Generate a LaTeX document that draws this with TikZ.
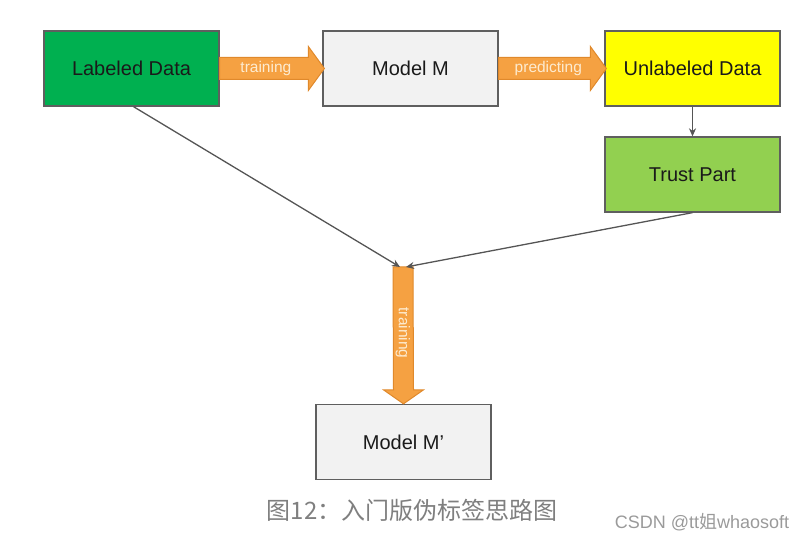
\documentclass[tikz,border=0pt]{standalone}
\usepackage{fontspec}
\setmainfont{Liberation Sans}
\newfontfamily\cjk{Noto Sans CJK SC}
\usetikzlibrary{calc,arrows.meta}
\definecolor{boxline}{HTML}{5F5F5F}
\definecolor{dkgreen}{HTML}{00B050}
\definecolor{ltgreen}{HTML}{92D050}
\definecolor{ltgray}{HTML}{F2F2F2}
\definecolor{yel}{HTML}{FFFF00}
\definecolor{orng}{HTML}{F5A142}
\definecolor{orngline}{HTML}{E0892B}
\definecolor{orngtext}{HTML}{FDEBD0}
\definecolor{conn}{HTML}{555555}
\definecolor{boxtxt}{HTML}{1A1A1A}
\definecolor{captxt}{HTML}{7F7F7F}
\definecolor{marktxt}{HTML}{9A9A9A}
\begin{document}
\begin{tikzpicture}[x=1pt,y=1pt,
  box/.style={draw=boxline,line width=1.3pt,minimum width=175pt,minimum height=75pt,inner sep=0pt,text=boxtxt,font=\fontsize{20}{24}\selectfont},
  fatarrow/.style={fill=orng,draw=orngline,line width=1pt,line join=miter},
  arrlabel/.style={text=orngtext,font=\fontsize{15.5}{18}\selectfont,inner sep=0pt},
  conline/.style={draw=conn,line width=1.3pt,-{Stealth[length=8pt,width=7pt]}}]
\useasboundingbox (0,0) rectangle (806,540);
\node[box,fill=dkgreen] (lab) at (131.5,471.5) {Labeled Data};
\node[box,fill=ltgray] (mm) at (410.5,471.5) {Model M};
\node[box,fill=yel] (unl) at (692.5,471.5) {Unlabeled Data};
\node[box,fill=ltgreen] (tru) at (692.5,365.5) {Trust Part};
\node[box,fill=ltgray] (mmp) at (403.5,98) {Model M'};
\coordinate (meet) at (403,273);
% horizontal fat arrows
\draw[fatarrow] ([yshift=11pt]lab.east) -- ([xshift=-14pt,yshift=11pt]mm.west) -- ([xshift=-14pt,yshift=22pt]mm.west) -- ([xshift=2pt]mm.west) -- ([xshift=-14pt,yshift=-22pt]mm.west) -- ([xshift=-14pt,yshift=-11pt]mm.west) -- ([yshift=-11pt]lab.east) -- cycle;
\node[arrlabel] (t1) at ($(lab.east)!0.45!(mm.west)$) {training};
\draw[fatarrow] ([yshift=11pt]mm.east) -- ([xshift=-14pt,yshift=11pt]unl.west) -- ([xshift=-14pt,yshift=22pt]unl.west) -- ([xshift=2pt]unl.west) -- ([xshift=-14pt,yshift=-22pt]unl.west) -- ([xshift=-14pt,yshift=-11pt]unl.west) -- ([yshift=-11pt]mm.east) -- cycle;
\node[arrlabel] (p1) at ($(mm.east)!0.47!(unl.west)$) {predicting};
% vertical fat arrow
\draw[fatarrow] ([xshift=-10pt]meet) -- ([xshift=-10pt,yshift=14pt]mmp.north) -- ([xshift=-20pt,yshift=14pt]mmp.north) -- (mmp.north) -- ([xshift=20pt,yshift=14pt]mmp.north) -- ([xshift=10pt,yshift=14pt]mmp.north) -- ([xshift=10pt]meet) -- cycle;
\node[arrlabel,rotate=-90] (t2) at (403,207) {training};
% connectors
\draw[conline] (unl.south) -- (tru.north);
\draw[conline] ([xshift=2pt]lab.south) -- ([xshift=-3pt]meet);
\draw[conline] (tru.south) -- ([xshift=3pt]meet);
% caption
\node[text=captxt,font=\cjk\fontsize{24}{28}\selectfont,inner sep=0pt] (cap) at (412,30) {图12：入门版伪标签思路图};
\node[text=marktxt,font=\fontsize{18}{20}\selectfont,inner sep=0pt] (mark) at (702,18) {CSDN @tt{\cjk 姐}whaosoft};
\end{tikzpicture}
\end{document}
